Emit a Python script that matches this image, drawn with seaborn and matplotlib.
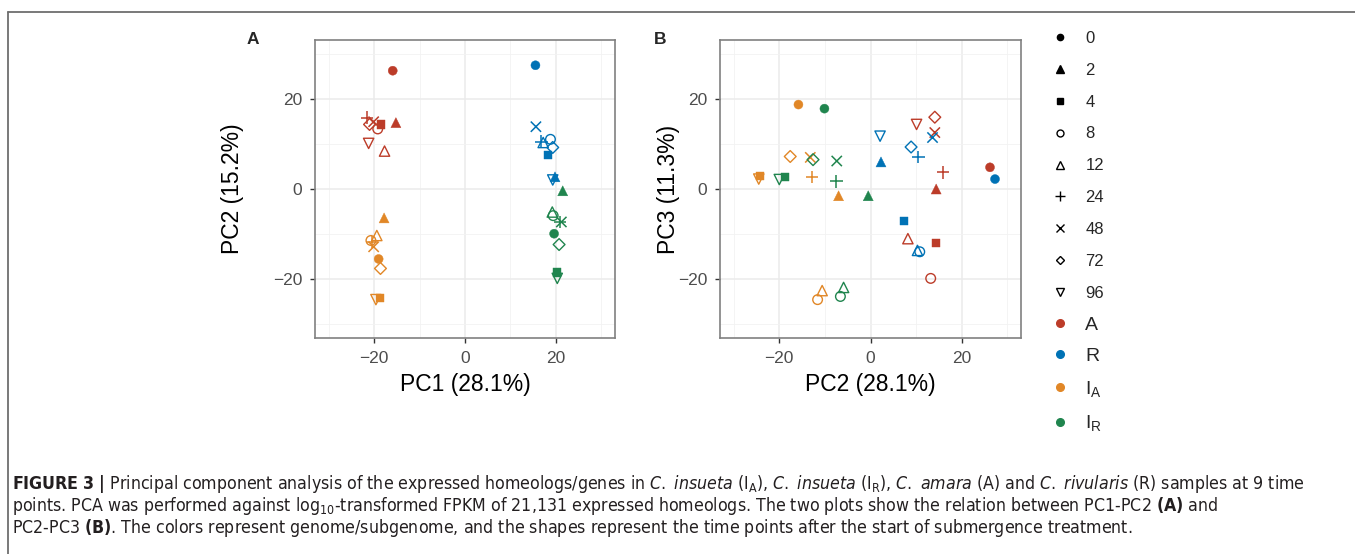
import numpy as np
import pandas as pd
import matplotlib
matplotlib.use("Agg")
import matplotlib.pyplot as plt
import seaborn as sns
from matplotlib.lines import Line2D
from matplotlib import font_manager as fm

# ---------------- data ----------------
groups = ["A", "R", "IA", "IR"]
group_labels = ["A", "R", r"I$_\mathregular{A}$", r"I$_\mathregular{R}$"]
times = [0, 2, 4, 8, 12, 24, 48, 72, 96]
colors = ["#BC3C29", "#0072B5", "#E18727", "#20854E"]

# Panel A: PC1 / PC2, one value per time point (order of `times`)
pA_x_A = [-15.9, -15.2, -18.5, -19.2, -17.7, -21.5, -20.1, -21.0, -21.2]
pA_y_A = [26.2, 14.7, 14.3, 13.3, 8.4, 15.8, 14.9, 14.3, 10.1]
pA_x_R = [15.5, 19.8, 18.2, 18.8, 17.2, 16.8, 15.6, 19.3, 19.3]
pA_y_R = [27.4, 2.7, 7.5, 11.0, 10.3, 10.5, 13.8, 9.2, 2.0]
pA_x_IA = [-19.0, -17.8, -18.7, -20.7, -19.4, -20.4, -20.1, -18.6, -19.6]
pA_y_IA = [-15.5, -6.4, -24.2, -11.4, -10.3, -11.8, -12.8, -17.6, -24.5]
pA_x_IR = [19.6, 21.5, 20.3, 19.4, 19.2, 20.9, 21.2, 20.7, 20.3]
pA_y_IR = [-9.9, -0.4, -18.5, -5.9, -5.1, -7.3, -7.3, -12.3, -19.8]

# Panel B: PC2 / PC3
pB_x_A = [26.2, 14.4, 14.3, 13.2, 8.2, 15.9, 14.1, 14.1, 10.1]
pB_y_A = [4.8, 0.0, -11.9, -19.8, -11.0, 3.7, 12.5, 15.9, 14.3]
pB_x_R = [27.3, 2.3, 7.3, 10.8, 10.3, 10.5, 13.6, 8.9, 2.1]
pB_y_R = [2.2, 6.0, -7.1, -13.9, -13.6, 7.1, 11.4, 9.3, 11.7]
pB_x_IA = [-15.8, -7.0, -24.3, -11.6, -10.6, -12.8, -13.2, -17.6, -24.5]
pB_y_IA = [18.7, -1.5, 2.9, -24.5, -22.5, 2.6, 7.0, 7.2, 2.2]
pB_x_IR = [-10.1, -0.5, -18.8, -6.6, -5.9, -7.5, -7.4, -12.6, -20.0]
pB_y_IR = [17.8, -1.5, 2.7, -23.8, -21.8, 1.7, 6.2, 6.5, 2.1]

ticks = [-20, 0, 20]
xlabel_A, ylabel_A = "PC1 (28.1%)", "PC2 (15.2%)"
xlabel_B, ylabel_B = "PC2 (28.1%)", "PC3 (11.3%)"

caption_lines = [
    r"$\mathbf{FIGURE}$ $\mathbf{3}$ $\mathbf{|}$ Principal component analysis of the expressed homeologs/genes in "
    r"$\mathit{C.}$ $\mathit{insueta}$ (I$_\mathregular{A}$), $\mathit{C.}$ $\mathit{insueta}$ (I$_\mathregular{R}$), "
    r"$\mathit{C.}$ $\mathit{amara}$ (A) and $\mathit{C.}$ $\mathit{rivularis}$ (R) samples at 9 time",
    r"points. PCA was performed against log$_\mathregular{10}$-transformed FPKM of 21,131 expressed "
    r"homeologs. The two plots show the relation between PC1-PC2 $\mathbf{(A)}$ and",
    r"PC2-PC3 $\mathbf{(B)}$. The colors represent genome/subgenome, and the shapes represent "
    r"the time points after the start of submergence treatment.",
]

# ---------------- fonts ----------------
def font_ok(fp, key):
    try:
        f = fm.findfont(fp, fallback_to_default=False)
        return key in f.lower()
    except Exception:
        return False

if font_ok(fm.FontProperties(family="Liberation Sans Narrow"), "narrow"):
    cap_family, cap_stretch = "Liberation Sans Narrow", "normal"
    m_rm = "Liberation Sans Narrow"
    m_it = "Liberation Sans Narrow:style=italic"
    m_bf = "Liberation Sans Narrow:weight=bold"
elif font_ok(fm.FontProperties(family="DejaVu Sans", stretch="condensed"), "condensed"):
    cap_family, cap_stretch = "DejaVu Sans", "condensed"
    m_rm = "DejaVu Sans:stretch=condensed"
    m_it = "DejaVu Sans:style=italic:stretch=condensed"
    m_bf = "DejaVu Sans:weight=bold:stretch=condensed"
else:
    cap_family, cap_stretch = "Liberation Sans", "normal"
    m_rm = "Liberation Sans"
    m_it = "Liberation Sans:style=italic"
    m_bf = "Liberation Sans:weight=bold"

# ---------------- styling ----------------
sns.set_theme(style="white")
plt.rcParams["font.family"] = ["Liberation Sans", "DejaVu Sans"]
plt.rcParams["mathtext.fontset"] = "custom"
plt.rcParams["mathtext.rm"] = m_rm
plt.rcParams["mathtext.it"] = m_it
plt.rcParams["mathtext.bf"] = m_bf

palette = dict(zip(groups, colors))
markers = {0: "o", 2: "^", 4: "s", 8: "o", 12: "^", 24: "+", 48: "x", 72: "D", 96: "v"}
sizes = {0: 42, 2: 52, 4: 36, 8: 48, 12: 55, 24: 80, 48: 55, 72: 36, 96: 55}
hollow = {8, 12, 72, 96}


def make_df(xs, ys):
    rows = []
    for g, xv, yv in zip(groups, xs, ys):
        for t, a, b in zip(times, xv, yv):
            rows.append({"group": g, "time": t, "x": a, "y": b})
    return pd.DataFrame(rows)


dfA = make_df([pA_x_A, pA_x_R, pA_x_IA, pA_x_IR], [pA_y_A, pA_y_R, pA_y_IA, pA_y_IR])
dfB = make_df([pB_x_A, pB_x_R, pB_x_IA, pB_x_IR], [pB_y_A, pB_y_R, pB_y_IA, pB_y_IR])

W, H = 1355, 554
fig = plt.figure(figsize=(W / 100, H / 100), dpi=100)


def px_axes(l, t, r, b):
    return fig.add_axes([l / W, 1 - b / H, (r - l) / W, (b - t) / H])


axA = px_axes(315, 40, 615, 338)
axB = px_axes(720, 40, 1021, 338)


def draw(ax, df, xl, yl, ylab_px):
    for t in times:
        sub = df[df.time == t]
        sns.scatterplot(data=sub, x="x", y="y", hue="group", hue_order=groups,
                        palette=palette, marker=markers[t], s=sizes[t],
                        linewidth=1.0, legend=False, ax=ax, zorder=3)
        coll = ax.collections[-1]
        fc = coll.get_facecolors()
        coll.set_edgecolors(fc)
        if t in hollow:
            coll.set_facecolors("none")
            coll.set_linewidths(1.0)
        elif markers[t] in ("+", "x"):
            coll.set_linewidths(1.1)
        else:
            coll.set_linewidths(0.3)
    ax.set_xlim(-33, 33)
    ax.set_ylim(-33, 33)
    ax.set_xticks(ticks)
    ax.set_yticks(ticks)
    ax.set_xticks([-30, -10, 10, 30], minor=True)
    ax.set_yticks([-30, -10, 10, 30], minor=True)
    ax.grid(which="major", color="#EBEBEB", lw=1.1)
    ax.grid(which="minor", color="#F2F2F2", lw=0.6)
    ax.set_axisbelow(True)
    ax.tick_params(which="major", length=3.6, width=1.0, color="#333333",
                   labelsize=12.5, labelcolor="#4D4D4D", bottom=True, left=True)
    ax.tick_params(axis="x", which="major", pad=6.0)
    ax.tick_params(axis="y", which="major", pad=5.5)
    ax.tick_params(which="minor", length=0)
    for s in ax.spines.values():
        s.set_color("#808080")
        s.set_linewidth(1.2)
    ax.set_xlabel(xl, fontsize=16.5, color="black", va="center")
    ax.set_ylabel(yl, fontsize=16.5, color="black", va="center")
    bbox = ax.get_position()
    axw = bbox.width * W
    axh = bbox.height * H
    ax.xaxis.set_label_coords(0.5, -(385 - 338) / axh)
    ax.yaxis.set_label_coords(-(bbox.x0 * W - ylab_px) / axw, 0.5)


draw(axA, dfA, xlabel_A, ylabel_A, 233)
draw(axB, dfB, xlabel_B, ylabel_B, 668)

fig.text(253 / W, 1 - 40 / H, "A", fontsize=12.5, weight="bold", ha="center", va="center")
fig.text(660 / W, 1 - 40 / H, "B", fontsize=12.5, weight="bold", ha="center", va="center")

# ---------------- legends ----------------
leg_ms = {0: 4.5, 2: 5.5, 4: 4.5, 8: 5.0, 12: 5.5, 24: 7.0, 48: 5.5, 72: 4.5, 96: 5.5}
shape_handles = []
for t in times:
    h = Line2D([], [], linestyle="", marker=markers[t], color="black",
               markersize=leg_ms[t], markeredgewidth=1.0,
               markerfacecolor="none" if t in hollow else "black")
    shape_handles.append(h)
leg1 = fig.legend(shape_handles, [str(t) for t in times], loc="upper left",
                  bbox_to_anchor=(1052 / W, 1 - 31 / H), frameon=False, fontsize=12,
                  handlelength=1.0, handletextpad=1.0, labelspacing=1.01,
                  borderpad=0, borderaxespad=0)
color_handles = [Line2D([], [], linestyle="", marker="o", color=c, markersize=5.5)
                 for c in colors]
leg2 = fig.legend(color_handles, group_labels, loc="upper left",
                  bbox_to_anchor=(1052 / W, 1 - 316 / H), frameon=False, fontsize=14,
                  handlelength=1.0 * 12 / 14, handletextpad=0.85, labelspacing=0.72,
                  borderpad=0, borderaxespad=0)

# ---------------- frame lines ----------------
fig.add_artist(Line2D([8 / W, 1], [1 - 12 / H, 1 - 12 / H], color="#6E6E6E", lw=1.3,
                      transform=fig.transFigure))
fig.add_artist(Line2D([8 / W, 8 / W], [0, 1 - 12 / H], color="#6E6E6E", lw=1.3,
                      transform=fig.transFigure))

# ---------------- caption ----------------
cap_texts = []
for i, line in enumerate(caption_lines):
    t = fig.text(12 / W, 1 - (484 + 22 * i) / H, line, fontsize=10,
                 family=cap_family, stretch=cap_stretch, color="#231F20",
                 ha="left", va="center")
    cap_texts.append(t)
renderer = fig.canvas.get_renderer()
w1 = cap_texts[0].get_window_extent(renderer).width
new_size = 10 * 1295 / w1
for t in cap_texts:
    t.set_fontsize(new_size)

fig.savefig("out.png", dpi=100)
